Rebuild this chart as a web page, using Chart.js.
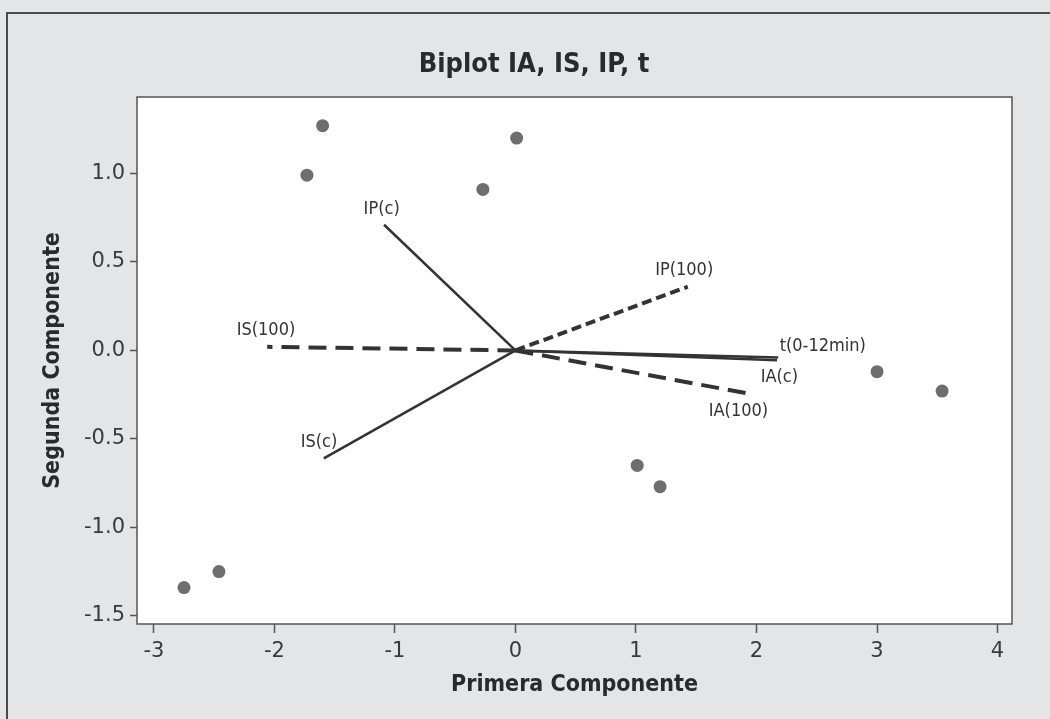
<!DOCTYPE html>
<html>
<head>
<meta charset="utf-8">
<title>Biplot IA, IS, IP, t</title>
<script src="https://cdn.jsdelivr.net/npm/chart.js@4.4.1/dist/chart.umd.min.js"></script>
<style>
	html, body { margin: 0; padding: 0; background: #e4e5e7; }
</style>
</head>
<body>
<canvas id="biplot" width="1050" height="719"></canvas>
<script>

// observation scores (Primera / Segunda Componente)
const scoreX = [ -1.60, -1.73, 0.01, -0.27, 3.00, 3.54, 1.01, 1.20, -2.75, -2.46 ];
const scoreY = [ 1.27, 0.99, 1.20, 0.91, -0.12, -0.23, -0.65, -0.77, -1.34, -1.25 ];

// variable loadings (vectors from the origin)
const varNames = [ 'IP(c)', 'IS(100)', 'IS(c)', 'IP(100)', 't(0-12min)', 'IA(c)', 'IA(100)' ];
const varX = [ -1.09, -2.06, -1.59, 1.43, 2.18, 2.17, 1.98 ];
const varY = [ 0.71, 0.02, -0.61, 0.36, -0.04, -0.055, -0.25 ];

// where each vector's name sits
const labelX = [ -1.11, -2.07, -1.63, 1.40, 2.55, 2.19, 1.85 ];
const labelY = [ 0.80, 0.115, -0.52, 0.455, 0.025, -0.15, -0.345 ];

const xTicks = [ -3, -2, -1, 0, 1, 2, 3, 4 ];
const yTicks = [ -1.5, -1.0, -0.5, 0.0, 0.5, 1.0 ];

const chartTitle = 'Biplot IA, IS, IP, t';

// dashed vectors (the "100" ones)
const dashes = {
	'IS(100)': [ 18, 9 ],
	'IP(100)': [ 10, 5 ],
	'IA(100)': [ 18, 9 ]
};

const ink = '#333';
const labelFont = '18px "DejaVu Sans Condensed", "DejaVu Sans", sans-serif';

const decor = {
	id: 'decor',
	beforeDraw( chart ) {
		const { ctx, chartArea: a } = chart;
		ctx.save();
		ctx.fillStyle = '#e4e5e7';
		ctx.fillRect( 0, 0, chart.width, chart.height );
		ctx.strokeStyle = '#4a4a4a';
		ctx.lineWidth = 2;
		ctx.beginPath();
		ctx.moveTo( 7, chart.height );
		ctx.lineTo( 7, 13 );
		ctx.lineTo( chart.width, 13 );
		ctx.stroke();
		ctx.fillStyle = '#fff';
		ctx.fillRect( a.left, a.top, a.width, a.height );
		ctx.restore();
	},
	afterDraw( chart ) {
		const { ctx, chartArea: a, scales } = chart;
		ctx.save();
		ctx.strokeStyle = '#555';
		ctx.lineWidth = 1.5;
		ctx.strokeRect( a.left, a.top, a.width, a.height );

		ctx.fillStyle = ink;
		ctx.font = labelFont;
		ctx.textAlign = 'center';
		ctx.textBaseline = 'middle';
		varNames.forEach( ( n, i ) => {
			ctx.fillText( n, scales.x.getPixelForValue( labelX[i] ), scales.y.getPixelForValue( labelY[i] ) );
		} );

		ctx.fillStyle = '#2a2a2a';
		ctx.font = 'bold 27px "DejaVu Sans Condensed", "DejaVu Sans", sans-serif';
		ctx.fillText( chartTitle, 534, 65 );
		ctx.restore();
	}
};

const vectorSets = varNames.map( ( n, i ) => ( {
	label: n,
	data: [ { x: 0, y: 0 }, { x: varX[i], y: varY[i] } ],
	showLine: true,
	borderColor: ink,
	borderWidth: dashes[n] ? 4 : 2.5,
	borderDash: dashes[n] || [],
	borderCapStyle: 'butt',
	pointRadius: 0
} ) );

const axisTitleFont = { family: '"DejaVu Sans Condensed", "DejaVu Sans"', size: 23, weight: 'bold' };

new Chart( 'biplot', {
	type: 'scatter',
	data: {
		datasets: [
			...vectorSets,
			{
				label: 'scores',
				data: scoreX.map( ( x, i ) => ( { x: x, y: scoreY[i] } ) ),
				pointRadius: 6.5,
				pointBackgroundColor: '#6e6e6e',
				pointBorderWidth: 0
			}
		]
	},
	options: {
		responsive: false,
		animation: false,
		devicePixelRatio: 1,
		layout: {
			padding: { top: 97, right: 38, bottom: 0, left: 0 }
		},
		plugins: {
			legend: { display: false },
			tooltip: { enabled: false }
		},
		scales: {
			x: {
				type: 'linear',
				position: 'bottom',
				min: -3.14,
				max: 4.12,
				afterBuildTicks: s => { s.ticks = xTicks.map( v => ( { value: v } ) ); },
				afterFit: s => { s.height = 95; },
				border: { display: false },
				grid: { drawOnChartArea: false, tickLength: 9, color: '#555', tickWidth: 1.5 },
				ticks: {
					autoSkip: false,
					padding: 6,
					color: '#3a3a3a',
					font: { family: '"DejaVu Sans"', size: 21 },
					callback: v => String( v )
				},
				title: {
					display: true,
					text: 'Primera Componente',
					color: '#2a2a2a',
					font: axisTitleFont,
					padding: { top: 0, bottom: 20 }
				}
			},
			y: {
				type: 'linear',
				position: 'left',
				min: -1.546,
				max: 1.432,
				afterBuildTicks: s => { s.ticks = yTicks.map( v => ( { value: v } ) ); },
				afterFit: s => { s.width = 137; },
				border: { display: false },
				grid: { drawOnChartArea: false, tickLength: 7, color: '#555', tickWidth: 1.5 },
				ticks: {
					autoSkip: false,
					padding: 5,
					color: '#3a3a3a',
					font: { family: '"DejaVu Sans"', size: 21 },
					callback: v => v.toFixed( 1 )
				},
				title: {
					display: true,
					text: 'Segunda Componente',
					color: '#2a2a2a',
					font: axisTitleFont,
					padding: { top: 39, bottom: 0 }
				}
			}
		}
	},
	plugins: [ decor ]
} );

</script>
</body>
</html>
